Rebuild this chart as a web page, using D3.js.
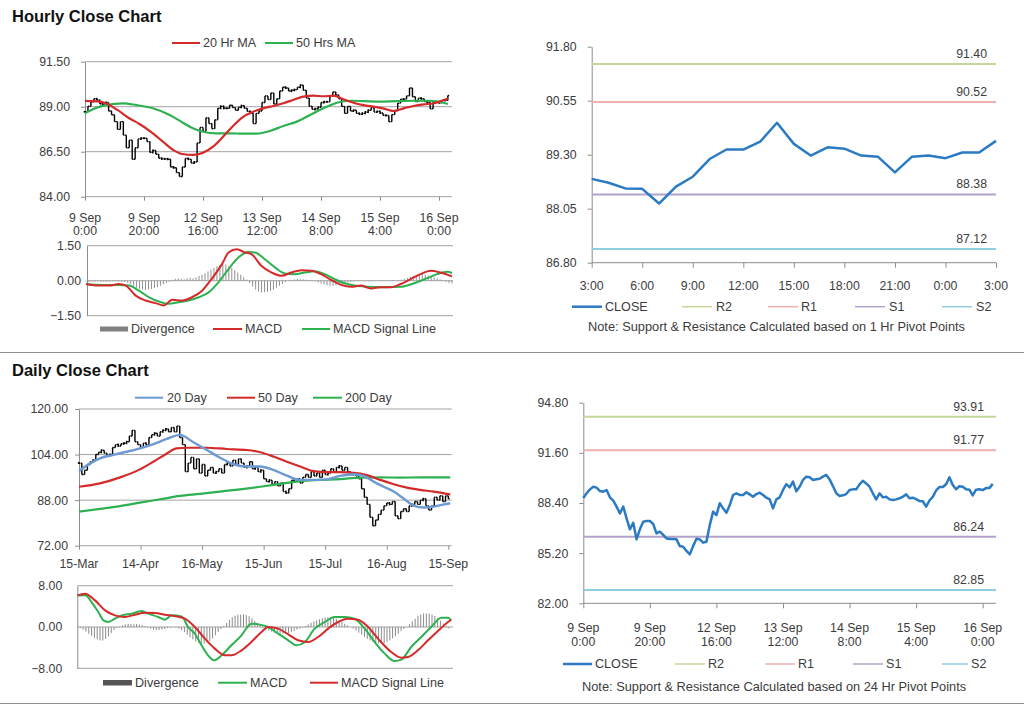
<!DOCTYPE html>
<html><head><meta charset="utf-8">
<script src="https://cdn.jsdelivr.net/npm/d3@7"></script>
<style>
body{margin:0;background:#fff;}
svg{display:block;font-family:"Liberation Sans",Arial,sans-serif;}
</style></head><body>
<svg id="c" width="1024" height="706"></svg>
<script>
// ---------------- DATA ----------------
// Hourly closes, 9 Sep 0:00 .. 16 Sep 3:00 (trading hours, index = hour)
const hourlyClose = [88.72,89.02,89.27,89.44,89.38,89.16,89.12,89.23,88.76,88.55,
 88.17,87.74,88.17,87.42,86.72,87.14,86.08,86.72,87.21,87.25,
 87.25,87.06,86.46,86.57,86.36,86.14,86.10,86.10,86.08,85.65,
 85.61,85.34,85.12,85.65,86.12,86.08,85.87,85.93,86.99,87.85,
 87.63,88.38,88.06,87.78,88.27,88.91,89.02,88.91,88.91,89.08,
 88.95,88.80,88.97,89.06,88.91,88.74,88.63,88.06,88.63,88.76,
 89.23,89.60,89.40,89.76,89.15,89.44,89.87,90.08,90.04,89.87,
 89.91,89.95,90.08,90.19,89.91,89.48,89.02,88.85,88.89,88.97,
 89.23,89.27,89.27,89.59,89.82,89.65,89.44,89.02,88.63,89.02,
 88.76,88.80,88.63,88.59,88.63,88.70,88.80,88.95,88.70,
 88.74,88.65,88.52,88.51,88.17,88.56,88.79,89.20,89.42,89.42,
 89.60,90.04,89.55,89.28,89.47,89.44,89.28,89.25,88.89,89.25,
 89.28,89.22,89.35,89.35,89.62];
const ma20Hr = [[0,89.32],[5,89.28],[7,89.19],[11,88.82],[15,88.36],[18.5,88.04],[23,87.52],[26.4,87.06],[30,86.59],[33,86.37],[36.6,86.32],[40,86.44],[43.4,86.78],[46.8,87.33],[50.2,87.93],[53.6,88.44],[57,88.72],[60.4,88.91],[63.8,89.04],[67.2,89.19],[70.5,89.37],[74,89.56],[77.4,89.61],[80.8,89.58],[84.2,89.61],[87.6,89.41],[91,89.22],[94.4,89.09],[97.8,89.0],[101,88.91],[104.6,88.76],[108,88.91],[111.4,89.04],[114.8,89.13],[118.2,89.19],[121.6,89.37],[123,89.46]];
const ma50Hr = [[0,88.63],[3.5,88.91],[7,89.09],[13,89.19],[17.4,89.09],[23,88.91],[28.7,88.54],[33.2,88.11],[36.6,87.80],[40,87.61],[44.5,87.52],[49,87.52],[53.6,87.50],[58.2,87.50],[62.7,87.65],[67.2,87.93],[71.8,88.17],[76.3,88.54],[80.8,88.91],[85.4,89.22],[89.9,89.33],[94.4,89.31],[100,89.28],[105.7,89.31],[111.4,89.33],[117,89.33],[123,89.15]];
const macdHr = [[0,-0.14],[4.4,-0.21],[7.9,-0.21],[11.1,-0.14],[13.4,-0.21],[16.7,-0.64],[20,-0.85],[23.4,-0.96],[26.1,-1.06],[29,-0.82],[32.3,-0.85],[35.6,-0.71],[39,-0.43],[42.2,0.07],[45.7,0.71],[47.9,1.21],[50.7,1.35],[53.4,1.21],[55.7,1.13],[58.9,0.64],[62.4,0.35],[65.7,0.21],[69,0.35],[72.4,0.45],[75.7,0.43],[79,0.28],[82.4,0.03],[85.7,-0.18],[89.1,-0.26],[92.4,-0.21],[95.7,-0.33],[99.1,-0.28],[102.4,-0.28],[105.8,-0.14],[109.1,0.07],[112.4,0.28],[115.8,0.43],[119.1,0.35],[122.5,0.21],[123,0.18]];
const signalHr = [[0,-0.14],[5.6,-0.18],[11.1,-0.18],[14.5,-0.21],[17.8,-0.43],[21.2,-0.71],[24.5,-0.89],[27.8,-0.99],[31.2,-0.92],[34.5,-0.85],[37.9,-0.71],[41.2,-0.50],[44.5,-0.07],[47.9,0.50],[51.2,0.99],[54.6,1.23],[56.8,1.21],[60.1,0.92],[63.5,0.57],[66.8,0.31],[70.2,0.28],[73.5,0.35],[76.8,0.40],[80.2,0.28],[83.5,0.07],[86.9,-0.11],[90.2,-0.21],[94.7,-0.26],[100.2,-0.28],[105.8,-0.26],[110.2,-0.11],[114.7,0.11],[118,0.28],[121.4,0.38],[123,0.33]];
const divergenceHr = [-0.04,-0.05,-0.05,-0.04,-0.03,-0.04,-0.05,-0.05,-0.04,-0.03,-0.03,-0.04,-0.05,-0.06,-0.08,
 -0.14,-0.22,-0.30,-0.35,-0.38,-0.40,-0.38,-0.36,-0.32,-0.28,-0.22,-0.16,-0.10,
 -0.04,0.04,0.08,0.10,0.08,0.06,0.10,0.12,0.10,0.14,0.20,
 0.26,0.32,0.40,0.48,0.55,0.62,0.68,0.72,0.70,0.64,0.55,0.45,0.35,0.25,0.15,0.05,
 -0.10,-0.25,-0.38,-0.46,-0.50,-0.50,-0.48,-0.44,-0.38,-0.30,-0.22,-0.14,-0.06,0.00,
 0.04,0.06,0.08,0.07,0.06,0.05,0.03,0.01,-0.03,
 -0.08,-0.12,-0.16,-0.20,-0.22,-0.22,-0.20,-0.18,-0.15,-0.12,-0.08,-0.05,-0.03,
 -0.02,-0.01,0.00,-0.02,-0.03,-0.02,-0.01,0.00,-0.02,-0.01,0.00,0.01,0.02,0.00,0.02,0.05,
 0.08,0.12,0.16,0.20,0.24,0.27,0.28,0.26,0.22,0.18,0.14,0.10,0.06,0.02,
 -0.05,-0.10,-0.12];

// Daily closes, 15-Mar .. 15-Sep (trading days)
const dailyClose = [101.0,97.0,98.5,100.5,101.5,102.0,104.0,104.8,105.5,104.5,
 103.5,104.0,106.5,107.5,107.0,107.8,108.0,108.5,110.5,112.5,
 108.5,107.5,106.5,108.0,107.5,110.0,111.0,111.5,110.5,112.0,
 112.5,113.0,112.0,113.5,112.0,114.0,110.0,107.5,98.0,101.0,
 103.0,99.0,102.5,97.5,100.5,96.5,98.5,99.5,97.5,98.0,
 99.0,97.5,100.5,101.0,100.0,102.0,100.5,102.5,101.0,99.5,
 100.0,101.5,99.0,99.5,98.0,98.5,95.5,94.5,95.0,93.5,
 94.5,93.0,94.0,91.0,90.5,92.0,95.0,94.5,95.5,94.0,
 96.0,97.0,96.0,98.0,96.5,97.5,96.0,98.5,97.0,97.5,
 99.0,98.0,99.5,100.0,98.5,99.5,98.0,97.0,97.5,96.5,
 95.5,92.0,89.0,86.5,82.0,79.0,81.0,83.0,84.5,86.0,
 87.0,86.5,87.5,82.5,81.5,84.0,85.0,84.0,86.0,86.5,
 87.5,86.5,88.0,88.5,86.0,84.5,86.0,89.0,88.0,89.5,
 87.5,89.5,88.5];
const ma20Day = [[0,98.2],[4,100.9],[7.5,102.7],[12.3,103.9],[17,105.0],[21.8,106.2],[26.6,107.7],[31.4,109.5],[36.1,110.9],[40.9,108.3],[45.7,105.6],[50.4,102.9],[55.2,100.6],[60,99.8],[64.8,99.8],[69.5,98.6],[74.3,96.6],[79.1,95.1],[83.8,95.1],[88.6,95.3],[93.4,96.5],[98.2,97.1],[101.7,96.5],[105.3,94.5],[108.9,92.7],[112.5,91.0],[116,88.6],[119.6,86.1],[123.2,85.4],[126.8,85.7],[130.4,86.5],[132.7,86.9]];
const ma50Day = [[0,92.7],[7.5,93.9],[14.7,96.0],[21.8,98.8],[26.6,101.5],[31.4,104.4],[34.9,106.2],[38.5,106.4],[45.7,106.4],[52.8,105.95],[60,105.6],[64.8,104.8],[69.5,103.3],[74.3,101.5],[79.1,99.8],[83.8,98.2],[88.6,97.8],[93.4,97.8],[98.2,97.6],[102.9,96.8],[107.7,95.1],[112.5,93.6],[117.2,92.4],[122,91.6],[126.8,91.0],[132.7,90.0]];
const ma200Day = [[0,83.95],[7.5,84.9],[14.7,85.9],[21.8,87.1],[29,88.3],[36.1,89.5],[43.3,90.2],[50.4,91.0],[57.6,91.8],[64.8,92.7],[71.9,93.7],[79.1,94.7],[86.2,95.1],[93.4,95.4],[100.5,95.9],[107.7,96.0],[114.8,95.9],[122,96.0],[132.7,96.0]];
const macdDay = [[0,6.1],[2.7,6.13],[5,4.84],[7.4,2.90],[9.2,1.29],[10.9,0.97],[13.3,1.61],[15.7,2.26],[19.2,2.58],[22.8,3.10],[25.1,2.58],[28.7,1.94],[31.1,1.42],[33.4,2.26],[37,2.06],[39.3,0],[41.7,-1.29],[44.1,-3.55],[46.4,-5.48],[48.6,-6.45],[51.2,-5.48],[54.7,-3.55],[58.3,-1.61],[61.8,0.65],[64.2,0.52],[67.8,0],[71.3,-1.29],[74.9,-2.58],[77.8,-3.55],[80.8,-2.90],[84.3,-0.32],[87.9,0.97],[91.4,1.94],[95,1.94],[98.5,1.61],[102.1,-0.32],[105.6,-2.90],[109.2,-5.16],[112.7,-6.58],[115.1,-6.32],[118.6,-3.87],[122.2,-1.94],[125.7,0],[129.3,1.81],[131.7,1.81],[132.8,1.29]];
const signalDay = [[0,6.13],[2.7,6.45],[6.2,5.16],[9.8,3.23],[13.3,2.26],[16.9,1.94],[20.4,2.39],[24,2.77],[27.5,2.71],[31.1,2.39],[34.6,2.13],[38.2,1.61],[41.7,0],[45.3,-2.26],[48.8,-4.19],[52.4,-5.48],[54.7,-5.48],[58.3,-4.52],[61.8,-2.90],[65.4,-0.97],[67.8,0],[71.3,-0.32],[74.9,-1.42],[78.4,-2.58],[82,-2.90],[85.5,-1.94],[89.1,-0.32],[92.6,0.97],[96.1,1.61],[99.7,1.42],[103.3,0],[106.8,-2.26],[111.5,-4.84],[115.1,-5.94],[117.5,-5.81],[121,-4.52],[124.6,-2.58],[128.1,-0.77],[131.7,0.97],[132.8,1.42]];
const divergenceDay = [0.0,-0.2,
 -0.5,-0.9,-1.3,-1.7,-2.1,-2.4,-2.6,-2.6,-2.3,-1.8,-1.2,-0.6,
 -0.2,0.1,
 0.3,0.5,0.6,0.6,0.5,0.6,0.5,0.4,0.2,
 -0.1,-0.3,-0.5,-0.6,-0.6,-0.5,-0.4,-0.2,
 -0.1,0.0,-0.1,-0.3,-0.6,
 -1.0,-1.5,-2.0,-2.4,-2.8,-3.0,-3.2,-3.2,-3.0,-2.7,-2.2,-1.6,-1.0,-0.4,0.2,
 0.8,1.4,1.9,2.2,2.4,2.4,2.4,2.3,2.1,1.7,1.2,0.7,0.3,
 -0.1,-0.4,-0.7,-0.9,-1.1,-1.2,-1.3,-1.3,-1.3,-1.2,-1.0,-0.8,-0.5,-0.3,-0.1,
 0.2,0.5,0.8,1.1,1.3,1.5,1.7,1.8,1.9,1.9,1.8,1.6,1.3,1.0,0.6,0.3,
 0.0,-0.3,-0.7,-1.1,-1.5,-1.9,-2.3,-2.6,-2.9,-3.1,-3.2,-3.2,-3.1,-2.9,-2.6,-2.2,-1.8,-1.3,-0.8,-0.4,0.0,
 0.5,1.1,1.6,2.1,2.4,2.6,2.6,2.6,2.4,2.1,1.7,1.2,0.7,0.2,
 -0.3];

// Pivot levels
const pivotNames = ["R2","R1","S1","S2"];
const hr1Pivots = [91.40, 90.52, 88.38, 87.12];
const hr24Pivots = [93.91, 91.77, 86.24, 82.85];

// Tick labels
const hourlyPriceTicks = [84.00, 86.50, 89.00, 91.50];
const hourlyMacdTicks = [-1.50, 0.00, 1.50];
const hourlyXTickIdx = [0,20,40,60,80,100,120];
const hourlyXTickLabels = [["9 Sep","0:00"],["9 Sep","20:00"],["12 Sep","16:00"],["13 Sep","12:00"],["14 Sep","8:00"],["15 Sep","4:00"],["16 Sep","0:00"]];
const last24Ticks = [86.80, 88.05, 89.30, 90.55, 91.80];
const last24XTickIdx = [0,3,6,9,12,15,18,21,24];
const last24XLabels = ["3:00","6:00","9:00","12:00","15:00","18:00","21:00","0:00","3:00"];
const dailyPriceTicks = [72.00, 88.00, 104.00, 120.00];
const dailyMacdTicks = [-8.00, 0.00, 8.00];
const dailyXTickIdx = [0,22,44,66,88,110,132];
const dailyXLabels = ["15-Mar","14-Apr","16-May","15-Jun","15-Jul","16-Aug","15-Sep"];
const hourly24Ticks = [82.00, 85.20, 88.40, 91.60, 94.80];

// ---------------- STYLE ----------------
const TXT = "#3c3c3c", GRID = "#a3a3a3", AXIS = "#8c8c8c";
const RED = "#d42a2a", GREEN = "#2db150", BLUE20 = "#6b9ad4", CLOSE = "#2b7bc3";
const pivotColors = ["#c4d79b", "#eeb0b0", "#b3a2cb", "#93cde0"];
const FONT = "'Liberation Sans', Arial, sans-serif";
const LEG = 12.6;
const fmt2 = d3.format(".2f");

const svg = d3.select("#c");
svg.append("rect").attr("width",1024).attr("height",706).attr("fill","#fff");

function txt(x, y, s, o = {}) {
  return svg.append("text").attr("x", x).attr("y", y).text(s)
    .attr("font-size", o.size || 12).attr("fill", o.fill || TXT)
    .attr("text-anchor", o.anchor || "start")
    .attr("font-weight", o.weight || "normal").attr("font-family", FONT);
}
function hline(x1, x2, y, c, w) {
  svg.append("line").attr("x1", x1).attr("x2", x2).attr("y1", y).attr("y2", y)
    .attr("stroke", c).attr("stroke-width", w || 1);
}
function yAxis(scale, ticks, x, gap, tick) {
  const ax = d3.axisLeft(scale).tickValues(ticks).tickFormat(fmt2)
    .tickSize(tick).tickSizeOuter(0).tickPadding(gap - tick);
  const g = svg.append("g").attr("transform", `translate(${x},0)`).call(ax);
  g.attr("font-family", FONT).attr("font-size", 12.3);
  g.select(".domain").attr("stroke", AXIS);
  g.selectAll(".tick line").attr("stroke", AXIS);
  g.selectAll(".tick text").attr("fill", TXT);
  return g;
}
function xTicks(scale, idx, y, len) {
  const ax = d3.axisBottom(scale).tickValues(idx).tickFormat("").tickSize(len).tickSizeOuter(0);
  const g = svg.append("g").attr("transform", `translate(0,${y})`).call(ax);
  g.select(".domain").remove();
  g.selectAll(".tick line").attr("stroke", AXIS);
}
function grid(scale, ticks, x1, x2) {
  ticks.forEach(t => hline(x1, x2, scale(t), GRID, 1));
}
function curveLine(pts, xs, ys, color, w) {
  const line = d3.line().x(d => xs(d[0])).y(d => ys(d[1])).curve(d3.curveMonotoneX);
  svg.append("path").attr("d", line(pts)).attr("fill", "none")
    .attr("stroke", color).attr("stroke-width", w || 2).attr("stroke-linejoin", "round");
}
function ohlc(closes, xs, ys, tick) {
  const g = svg.append("g").attr("stroke", "#000").attr("stroke-width", 1.4);
  closes.forEach((c, i) => {
    const o = i ? closes[i - 1] : c;
    const x = xs(i);
    let y1 = ys(Math.max(o, c)), y2 = ys(Math.min(o, c));
    if (y2 - y1 < 2) { y2 += 1; y1 -= 1; }
    g.append("line").attr("x1", x).attr("x2", x).attr("y1", y1).attr("y2", y2);
    g.append("line").attr("x1", x - tick).attr("x2", x).attr("y1", ys(o)).attr("y2", ys(o));
    g.append("line").attr("x1", x).attr("x2", x + tick).attr("y1", ys(c)).attr("y2", ys(c));
  });
}
function bars(vals, xs, ys, color) {
  const g = svg.append("g").attr("stroke", color).attr("stroke-width", 1);
  vals.forEach((v, i) => {
    g.append("line").attr("x1", xs(i)).attr("x2", xs(i)).attr("y1", ys(0)).attr("y2", ys(v));
  });
}
function legLine(x1, x2, y, color, w) { hline(x1, x2, y, color, w || 2); }

// ---------------- TITLES / SEPARATORS ----------------
txt(12, 22, "Hourly Close Chart", { size: 16.5, weight: "bold", fill: "#111" });
txt(12, 375.5, "Daily Close Chart", { size: 16.5, weight: "bold", fill: "#111" });
hline(0, 1024, 352.5, "#8f8f8f", 1);
hline(0, 1024, 703.5, "#8f8f8f", 1);

// ---------------- HOURLY PRICE (top-left) ----------------
const xH = d3.scaleLinear().domain([0, 120]).range([85, 439]);
const yH = d3.scaleLinear().domain([84, 91.5]).range([196.7, 61.7]);
grid(yH, hourlyPriceTicks, 85, 452);
yAxis(yH, hourlyPriceTicks, 85, 15, 4);
xTicks(xH, hourlyXTickIdx, 196.7, 4);
hourlyXTickIdx.forEach((t, i) => {
  txt(xH(t), 221.5, hourlyXTickLabels[i][0], { anchor: "middle", size: 12.3 });
  txt(xH(t), 235, hourlyXTickLabels[i][1], { anchor: "middle", size: 12.3 });
});
ohlc(hourlyClose, xH, yH, 1.3);
curveLine(ma50Hr, xH, yH, GREEN, 2.2);
curveLine(ma20Hr, xH, yH, RED, 2.2);
legLine(172, 200, 43, RED); txt(203, 47, "20 Hr MA", { size: LEG });
legLine(265, 293, 43, GREEN); txt(296, 47, "50 Hrs MA", { size: LEG });

// ---------------- HOURLY MACD ----------------
const xHM = d3.scaleLinear().domain([0, 123]).range([86, 452]);
const yHM = d3.scaleLinear().domain([-1.5, 1.5]).range([315.7, 245.7]);
grid(yHM, hourlyMacdTicks, 87, 453);
yAxis(yHM, hourlyMacdTicks, 87, 6, 0);
bars(divergenceHr, xHM, yHM, "#909090");
curveLine(signalHr, xHM, yHM, GREEN, 2);
curveLine(macdHr, xHM, yHM, RED, 2);
svg.append("rect").attr("x", 100).attr("y", 326.5).attr("width", 28).attr("height", 5).attr("fill", "#808080");
txt(131, 333, "Divergence", { size: LEG });
legLine(213, 242, 329, RED); txt(245, 333, "MACD", { size: LEG });
legLine(302, 330, 329, GREEN); txt(333, 333, "MACD Signal Line", { size: LEG });

// ---------------- LAST 24 HOURS (top-right) ----------------
const last25 = hourlyClose.slice(-25);
const x24 = d3.scaleLinear().domain([0, 24]).range([591.7, 996]);
const y24 = d3.scaleLinear().domain([86.8, 91.8]).range([262.7, 46.7]);
yAxis(y24, last24Ticks, 591.7, 15, 4);
hline(591.7, 996, 262.7, AXIS, 1);
xTicks(x24, last24XTickIdx, 262.7, 5);
last24XTickIdx.forEach((t, i) => txt(x24(t), 290, last24XLabels[i], { anchor: "middle", size: 12.3 }));
hr1Pivots.forEach((v, i) => {
  hline(591.7, 996, y24(v), pivotColors[i], 2);
  txt(987, y24(v) - 6, fmt2(v), { anchor: "end", size: 12.3 });
});
svg.append("path").attr("d", d3.line().x((d, i) => x24(i)).y(d => y24(d))(last25))
  .attr("fill", "none").attr("stroke", CLOSE).attr("stroke-width", 2.5).attr("stroke-linejoin", "round");
const leg1 = [[572, 602, 605, "CLOSE", CLOSE], [682, 712, 716, "R2", pivotColors[0]], [768, 798, 801, "R1", pivotColors[1]], [855, 885, 889, "S1", pivotColors[2]], [942, 972, 976, "S2", pivotColors[3]]];
leg1.forEach(d => { legLine(d[0], d[1], 306.7, d[4], d[3] === "CLOSE" ? 2.5 : 1.5); txt(d[2], 311, d[3], { size: LEG }); });
txt(588, 331, "Note: Support & Resistance Calculated based on 1 Hr Pivot Points", { size: 12.8 });

// ---------------- DAILY PRICE ----------------
const xD = d3.scaleLinear().domain([0, 132]).range([79, 448.3]);
const yD = d3.scaleLinear().domain([72, 120]).range([545.7, 409]);
grid(yD, dailyPriceTicks, 79, 451.7);
yAxis(yD, dailyPriceTicks, 79, 11, 4);
xTicks(xD, dailyXTickIdx, 545.7, 4);
dailyXTickIdx.forEach((t, i) => txt(xD(t), 568, dailyXLabels[i], { anchor: "middle", size: 12.3 }));
ohlc(dailyClose, xD, yD, 1.2);
curveLine(ma200Day, xD, yD, GREEN, 2.2);
curveLine(ma50Day, xD, yD, RED, 2.2);
curveLine(ma20Day, xD, yD, BLUE20, 2.4);
legLine(135, 163, 397.7, BLUE20); txt(167, 401.7, "20 Day", { size: LEG });
legLine(227, 255, 397.7, RED); txt(258, 401.7, "50 Day", { size: LEG });
legLine(313, 342, 397.7, GREEN); txt(345, 401.7, "200 Day", { size: LEG });

// ---------------- DAILY MACD ----------------
const xDM = d3.scaleLinear().domain([0, 133]).range([77.5, 451.7]);
const yDM = d3.scaleLinear().domain([-8, 8]).range([668.3, 585.7]);
grid(yDM, dailyMacdTicks, 77.3, 453);
yAxis(yDM, dailyMacdTicks, 77.3, 15, 0);
bars(divergenceDay, xDM, yDM, "#8a8a8a");
curveLine(macdDay, xDM, yDM, GREEN, 2);
curveLine(signalDay, xDM, yDM, RED, 2);
svg.append("rect").attr("x", 103).attr("y", 680).attr("width", 29).attr("height", 5.5).attr("fill", "#555");
txt(135, 686.7, "Divergence", { size: LEG });
legLine(218, 247, 682.7, GREEN); txt(250, 686.7, "MACD", { size: LEG });
legLine(310, 338, 682.7, RED); txt(341, 686.7, "MACD Signal Line", { size: LEG });

// ---------------- HOURLY CLOSE + 24H PIVOTS (bottom-right) ----------------
const xBR = d3.scaleLinear().domain([0, 120]).range([583.3, 982.7]);
const yBR = d3.scaleLinear().domain([82, 94.8]).range([603.3, 402.7]);
yAxis(yBR, hourly24Ticks, 583.3, 15, 4);
hline(583.3, 996, 603.3, AXIS, 1);
xTicks(xBR, hourlyXTickIdx, 603.3, 5);
hourlyXTickIdx.forEach((t, i) => {
  txt(xBR(t), 632, hourlyXTickLabels[i][0], { anchor: "middle", size: 12.3 });
  txt(xBR(t), 646, hourlyXTickLabels[i][1], { anchor: "middle", size: 12.3 });
});
hr24Pivots.forEach((v, i) => {
  hline(583.3, 996, yBR(v), pivotColors[i], 2);
  txt(984, yBR(v) - 6, fmt2(v), { anchor: "end", size: 12.3 });
});
svg.append("path").attr("d", d3.line().x((d, i) => xBR(i)).y(d => yBR(d))(hourlyClose))
  .attr("fill", "none").attr("stroke", CLOSE).attr("stroke-width", 2.5).attr("stroke-linejoin", "round");
const leg2 = [[563, 592, 595, "CLOSE", CLOSE], [675, 705, 708, "R2", pivotColors[0]], [765, 795, 798, "R1", pivotColors[1]], [853, 883, 886, "S1", pivotColors[2]], [942, 968, 971, "S2", pivotColors[3]]];
leg2.forEach(d => { legLine(d[0], d[1], 664, d[4], d[3] === "CLOSE" ? 2.5 : 1.5); txt(d[2], 668, d[3], { size: LEG }); });
txt(582, 691, "Note:  Support & Resistance Calculated based on 24 Hr Pivot Points", { size: 12.8 });
</script>
</body></html>
